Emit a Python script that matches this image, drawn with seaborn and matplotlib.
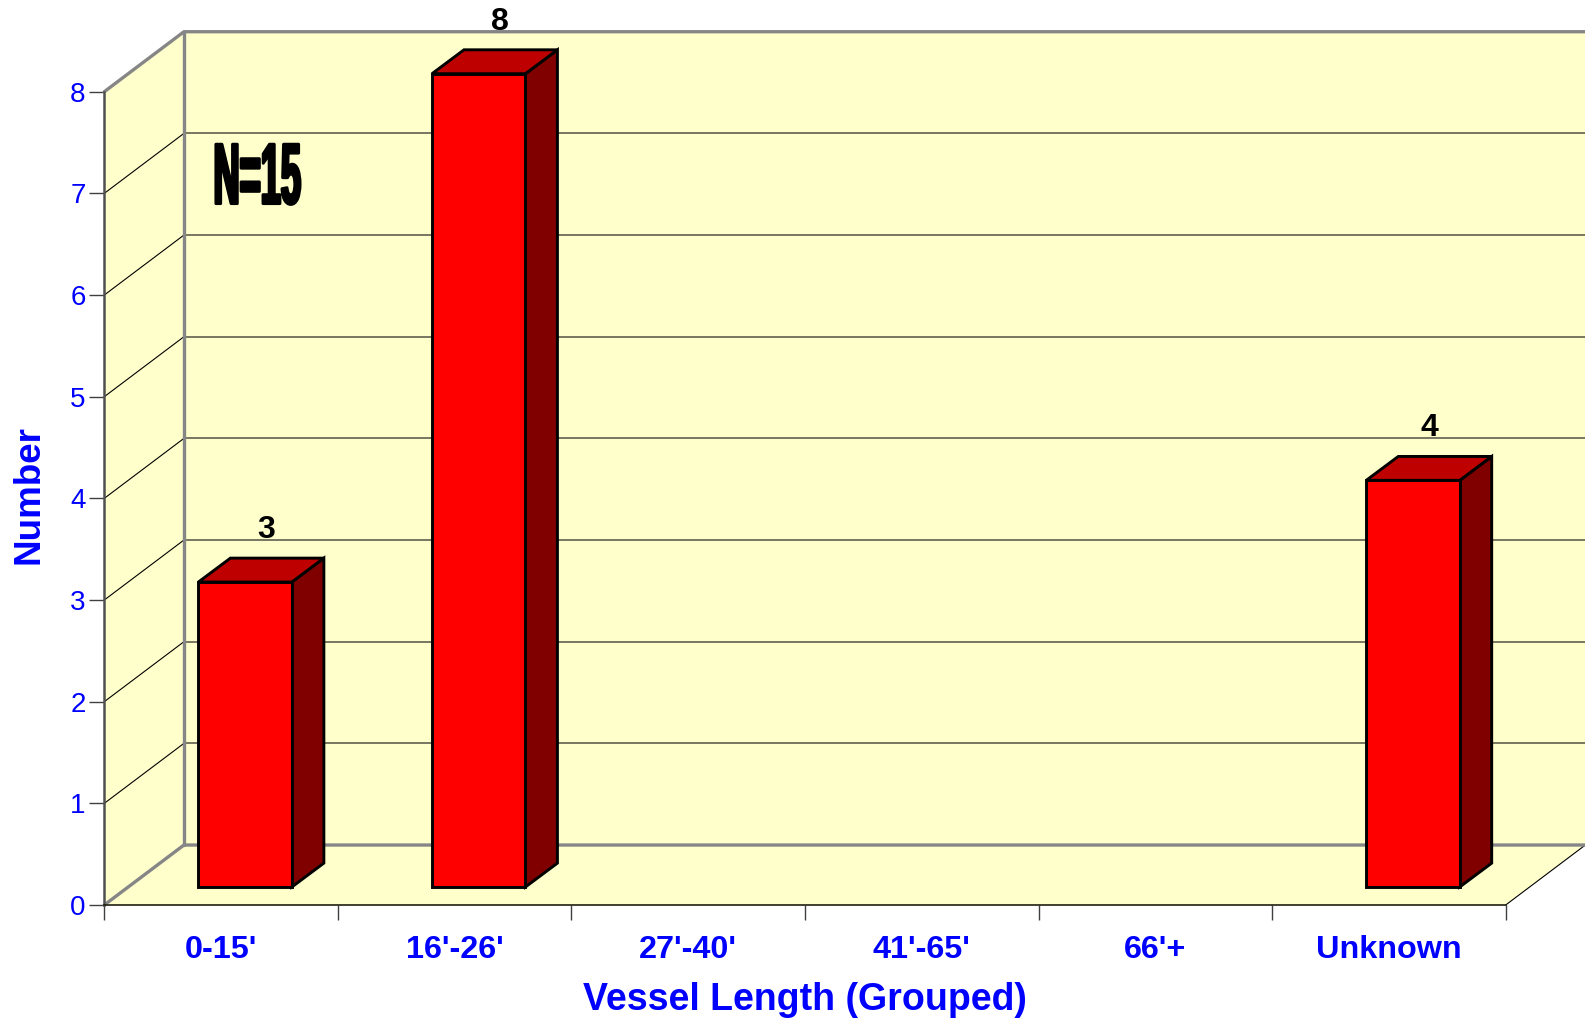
import numpy as np
import pandas as pd
import matplotlib
matplotlib.use('Agg')
import matplotlib.pyplot as plt
import matplotlib.patheffects as pe
from matplotlib.patches import Polygon
from matplotlib.transforms import Affine2D
import seaborn as sns

# Values
length_groups = ["0-15'", "16'-26'", "27'-40'", "41'-65'", "66'+", "Unknown"]
counts = [3, 8, np.nan, np.nan, np.nan, 4]
y_ticks = [0, 1, 2, 3, 4, 5, 6, 7, 8]

# Constants
DPI = 100
FIG_W, FIG_H = 1585, 1021
LEFT, RIGHT, BASE, TOP = 104.3, 1505.7, 905.0, 91.7
WALL = '#FFFFCC'
BLUE = '#0000FF'
EDGE_LW = 2.1

# Size of the fake 3D box, in data units
DEPTH_X = 0.341
DEPTH_Y = 0.590
BAR_WIDTH = 0.40
BAR_SHIFT_X = 0.103
BAR_SHIFT_Y = 0.177
BAR_DEPTH_X = 0.137
BAR_DEPTH_Y = 0.235


class SqueezeX(pe.AbstractPathEffect):
    """Narrow and fatten a text, for the Impact look of the N label"""

    def __init__(self, x0, scale, stroke):
        super().__init__()
        self.x0 = x0
        self.scale = scale
        self.stroke = stroke

    def draw_path(self, renderer, gc, tpath, affine, rgbFace=None):
        squeezed = affine + Affine2D().translate(-self.x0, 0).scale(self.scale, 1).translate(self.x0, 0)
        gc0 = renderer.new_gc()
        gc0.copy_properties(gc)
        gc0.set_linewidth(self.stroke)
        gc0.set_foreground('black')
        renderer.draw_path(gc0, tpath, squeezed, rgbFace)
        gc0.restore()


sns.set_theme(style='white')
plt.rcParams['font.family'] = ['Liberation Sans', 'DejaVu Sans']

fig = plt.figure(figsize=(FIG_W / DPI, FIG_H / DPI), dpi=DPI)
ax = fig.add_axes([LEFT / FIG_W, 1 - BASE / FIG_H, (RIGHT - LEFT) / FIG_W, (BASE - TOP) / FIG_H])
ax.patch.set_visible(False)

df = pd.DataFrame({'group': length_groups, 'count': counts})
sns.barplot(data=df, x='group', y='count', order=length_groups, color='#FF0000', saturation=1,
            width=BAR_WIDTH, edgecolor='black', linewidth=EDGE_LW, ax=ax, zorder=4)
bars = [b for b in ax.patches if np.isfinite(b.get_height()) and b.get_height() > 0]

x0, x1 = -0.5, 5.5
y0, y1 = 0, 8
ax.set_xlim(x0, x1)
ax.set_ylim(y0, y1)

# Walls and floor
back = [(x0 + DEPTH_X, y0 + DEPTH_Y), (x1 + DEPTH_X, y0 + DEPTH_Y), (x1 + DEPTH_X, y1 + DEPTH_Y), (x0 + DEPTH_X, y1 + DEPTH_Y)]
side = [(x0, y0), (x0 + DEPTH_X, y0 + DEPTH_Y), (x0 + DEPTH_X, y1 + DEPTH_Y), (x0, y1)]
floor = [(x0, y0), (x1, y0), (x1 + DEPTH_X, y0 + DEPTH_Y), (x0 + DEPTH_X, y0 + DEPTH_Y)]
for pts in [back, side, floor]:
    ax.add_patch(Polygon(pts, closed=True, facecolor=WALL, edgecolor='none', clip_on=False, zorder=0))

# Gridlines on the side wall and the back wall
for v in y_ticks[1:-1]:
    ax.plot([x0, x0 + DEPTH_X], [v, v + DEPTH_Y], color='black', lw=0.8, clip_on=False, zorder=1)
    ax.plot([x0 + DEPTH_X, x1 + DEPTH_X], [v + DEPTH_Y, v + DEPTH_Y], color='#606050', lw=1.2, clip_on=False, zorder=1)

# Box outline
frame = dict(color='#868686', lw=2.4, clip_on=False, zorder=2, solid_capstyle='round')
ax.plot([x0, x0 + DEPTH_X, x1 + DEPTH_X], [y1, y1 + DEPTH_Y, y1 + DEPTH_Y], **frame)
ax.plot([x0 + DEPTH_X, x0 + DEPTH_X], [y0 + DEPTH_Y, y1 + DEPTH_Y], **frame)
ax.plot([x0, x0 + DEPTH_X, x1 + DEPTH_X], [y0, y0 + DEPTH_Y, y0 + DEPTH_Y], **frame)
ax.plot([x1, x1 + DEPTH_X], [y0, y0 + DEPTH_Y], color='black', lw=0.8, clip_on=False, zorder=1)

# Move the bars into the box and add their top and side faces
label_nudge = [0.09, 0.09, 0.072]
for bar, nudge in zip(bars, label_nudge):
    h = bar.get_height()
    bar.set_x(bar.get_x() + BAR_SHIFT_X)
    bar.set_y(BAR_SHIFT_Y)
    bar.set_clip_on(False)
    bar.set_joinstyle('miter')
    l, r = bar.get_x(), bar.get_x() + bar.get_width()
    b, t = BAR_SHIFT_Y, BAR_SHIFT_Y + h
    ax.add_patch(Polygon([(r, b), (r + BAR_DEPTH_X, b + BAR_DEPTH_Y), (r + BAR_DEPTH_X, t + BAR_DEPTH_Y), (r, t)],
                         closed=True, facecolor='#800000', edgecolor='black', lw=EDGE_LW, clip_on=False, zorder=3))
    ax.add_patch(Polygon([(l, t), (r, t), (r + BAR_DEPTH_X, t + BAR_DEPTH_Y), (l + BAR_DEPTH_X, t + BAR_DEPTH_Y)],
                         closed=True, facecolor='#BF0000', edgecolor='black', lw=EDGE_LW, clip_on=False, zorder=3))
    ax.annotate(f'{h:.0f}', xy=((l + r) / 2 + nudge, t + BAR_DEPTH_Y), xytext=(0, 14.4), textcoords='offset points',
                ha='center', va='baseline', fontsize=23, fontweight='bold', color='black', annotation_clip=False)

# Axes and ticks
for name in ['top', 'right']:
    ax.spines[name].set_visible(False)
ax.spines['left'].set_color('#505050')
ax.spines['left'].set_linewidth(1.8)
ax.spines['bottom'].set_color('#202010')
ax.spines['bottom'].set_linewidth(1.2)

ax.set_yticks(y_ticks)
ax.set_yticklabels([str(v) for v in y_ticks], fontsize=20, color=BLUE)
ax.tick_params(axis='y', which='major', left=True, length=10.8, width=1.0, color='#404040', pad=2.6)

ax.set_xticks(np.arange(x0, x1 + 1), labels=[])
ax.set_xticks(np.arange(len(length_groups)), labels=length_groups, minor=True)
ax.tick_params(axis='x', which='major', bottom=True, length=10.8, width=1.0, color='#404040')
ax.tick_params(axis='x', which='minor', bottom=False, pad=17.6, labelsize=23.3, labelcolor=BLUE)
for label in ax.get_xticklabels(minor=True):
    label.set_fontweight('bold')

ax.set_xlabel('Vessel Length (Grouped)', fontsize=27, fontweight='bold', color=BLUE, va='center')
ax.xaxis.set_label_coords(0.5, -95 / (BASE - TOP))
ax.set_ylabel('Number', fontsize=26.5, fontweight='bold', color=BLUE, va='center')
ax.yaxis.set_label_coords(-(LEFT - 29) / (RIGHT - LEFT), 0.505)

# N label, anchored at its left edge in pixels
ax.text(-0.035, 6.9, 'N=15', fontsize=62, fontweight='bold', color='black', ha='left', va='baseline', zorder=3,
        path_effects=[SqueezeX(214, 0.42, 2.2)])

fig.savefig('out.png', dpi=DPI, facecolor='white')
